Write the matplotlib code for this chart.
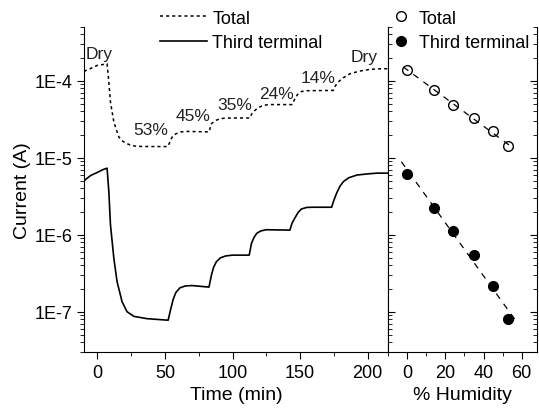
import matplotlib
matplotlib.use("Agg")
import matplotlib.pyplot as plt
import numpy as np
from matplotlib.ticker import FuncFormatter, MultipleLocator, NullFormatter, LogLocator

plt.rcParams['font.family'] = ['Liberation Sans', 'DejaVu Sans']
plt.rcParams['font.size'] = 13

# time series (time in min, log10 of current in A)
t_total = [-10, -5, 0, 4, 7.1, 8.4, 9.6, 12.1, 15.8, 19, 21.9, 25, 29.3, 40, 52,
           53.5, 55.3, 58, 61.5, 65, 82.5, 84.4, 87, 90.6, 95, 112.8, 114.5, 116.5,
           119, 122.7, 127, 144, 146, 148, 151, 155, 174.5, 176, 178, 182, 187, 194,
           201.7, 208, 215]
log_total = [-3.879, -3.84, -3.80, -3.79, -3.78, -4.017, -4.277, -4.536, -4.731, -4.79,
             -4.818, -4.84, -4.853, -4.855, -4.855, -4.80, -4.73, -4.69, -4.666, -4.658,
             -4.665, -4.558, -4.52, -4.494, -4.485, -4.484, -4.42, -4.386, -4.35, -4.32,
             -4.31, -4.31, -4.24, -4.18, -4.14, -4.13, -4.126, -4.07, -4.02, -3.96,
             -3.909, -3.875, -3.853, -3.846, -3.844]

t_third = [-10, -5, 0, 4, 7.1, 8.4, 9.6, 12.1, 14.5, 18.2, 21.9, 26.9, 36.7, 52.3,
           54, 56, 58, 61, 65, 70, 82.5, 84.4, 86, 88, 91, 95, 100, 112.3, 114, 116,
           118, 121, 125, 142.4, 144, 146, 148.5, 151, 155, 160, 173.3, 175, 177,
           179.5, 182, 186, 192, 200, 207, 215]
log_third = [-5.30, -5.23, -5.19, -5.155, -5.136, -5.44, -5.87, -6.305, -6.61, -6.87,
             -7.0, -7.06, -7.09, -7.11, -6.98, -6.84, -6.75, -6.69, -6.665, -6.66,
             -6.68, -6.52, -6.42, -6.35, -6.30, -6.275, -6.265, -6.265, -6.11, -6.03,
             -5.98, -5.95, -5.935, -5.94, -5.85, -5.786, -5.71, -5.665, -5.645, -5.643,
             -5.643, -5.55, -5.46, -5.37, -5.31, -5.26, -5.225, -5.21, -5.20, -5.20]

# annotations on the total curve
ann_text = ['Dry', '53%', '45%', '35%', '24%', '14%', 'Dry']
ann_t = [1, 39.6, 70.8, 101.5, 132.6, 163.4, 197.3]
ann_log = [-3.65, -4.636, -4.45, -4.31, -4.17, -3.96, -3.69]

# steady-state currents vs humidity
humidity = [0, 14, 24, 35, 45, 53]
total_ss = [1.39e-4, 7.6e-5, 4.9e-5, 3.3e-5, 2.2e-5, 1.4e-5]
third_ss = [6.2e-6, 2.25e-6, 1.12e-6, 5.5e-7, 2.16e-7, 8.0e-8]

fig = plt.figure(figsize=(5.39, 4.10), dpi=100)
ax1 = fig.add_axes([0.1558, 0.139, 0.564, 0.793])
ax2 = fig.add_axes([0.7199, 0.139, 0.2764, 0.793], sharey=ax1)

ax1.semilogy(t_total, 10.0 ** np.array(log_total), color='black', lw=1.1,
             ls=(0, (2, 2)), label='Total')
ax1.semilogy(t_third, 10.0 ** np.array(log_third), color='black', lw=1.2,
             label='Third terminal')

for s, x, y in zip(ann_text, ann_t, ann_log):
    ax1.text(x, 10 ** y, s, ha='center', va='center', fontsize=12.5, color='#222222')

# right panel
ax2.semilogy(humidity, total_ss, 'o', mfc='white', mec='black', ms=7, mew=1.0,
             label='Total')
ax2.semilogy(humidity, third_ss, 'o', color='black', ms=7, label='Third terminal')
for vals, x0, x1 in [(total_ss, -2, 56), (third_ss, -3, 58)]:
    p = np.polyfit(humidity, np.log10(vals), 1)
    xf = np.array([x0, x1])
    ax2.semilogy(xf, 10 ** np.polyval(p, xf), color='black', lw=0.9, ls=(0, (5, 5)))

# axes formatting (after all plotting, log scale resets shared formatters)
ax1.set_xlim(-10, 215)
ax1.set_ylim(3e-8, 5e-4)
ax1.xaxis.set_major_locator(MultipleLocator(50))
ax1.xaxis.set_minor_locator(MultipleLocator(25))
ax1.yaxis.set_major_locator(LogLocator(base=10))
ax1.yaxis.set_minor_locator(LogLocator(base=10, subs=np.arange(2, 10)))
ax1.yaxis.set_major_formatter(FuncFormatter(lambda v, _: '1E%d' % round(np.log10(v))))
ax1.yaxis.set_minor_formatter(NullFormatter())
ax1.tick_params(which='both', direction='out')
ax1.tick_params(which='major', length=5, labelsize=13)
ax1.tick_params(which='minor', length=3)
ax1.spines['top'].set_visible(False)
ax1.set_xlabel('Time (min)', fontsize=14)
ax1.set_ylabel('Current (A)', fontsize=14, labelpad=2)
ax1.legend(loc='upper left', bbox_to_anchor=(0.297, 0.974), bbox_transform=fig.transFigure,
           frameon=False, borderpad=0, borderaxespad=0, handlelength=2.6,
           handletextpad=0.3, labelspacing=0.4, fontsize=13)

ax2.set_xlim(-10, 68)
ax2.xaxis.set_major_locator(MultipleLocator(20))
ax2.xaxis.set_minor_locator(MultipleLocator(10))
ax2.tick_params(axis='x', which='both', direction='out')
ax2.tick_params(axis='x', which='major', length=5, labelsize=13)
ax2.tick_params(axis='x', which='minor', length=3)
ax2.tick_params(axis='y', which='both', direction='in', left=True, right=True,
                labelleft=False)
ax2.tick_params(axis='y', which='major', length=5)
ax2.tick_params(axis='y', which='minor', length=3)
ax2.spines['top'].set_visible(False)
ax2.set_xlabel('% Humidity', fontsize=14)
ax2.legend(loc='upper left', bbox_to_anchor=(0.728, 0.974), bbox_transform=fig.transFigure,
           frameon=False, borderpad=0, borderaxespad=0, handlelength=1.0,
           handletextpad=0.45, labelspacing=0.4, fontsize=13)

fig.savefig('out.png', dpi=100)
